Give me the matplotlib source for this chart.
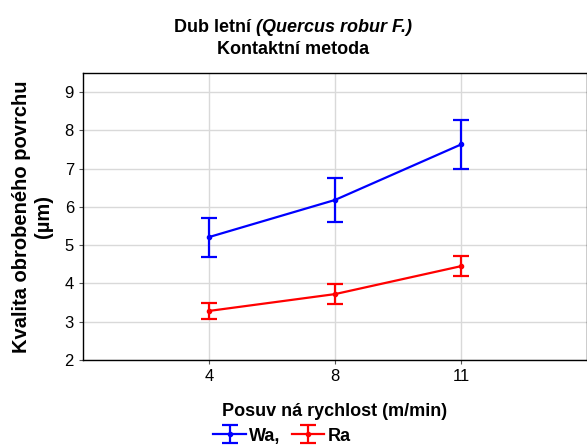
import numpy as np
import matplotlib.pyplot as plt

plt.rcParams['font.family'] = ['Liberation Sans', 'DejaVu Sans']

# feed rate categories and surface quality values (mean +/- error)
feed = ['4', '8', '11']
wa_mean = [5.21, 6.18, 7.63]
wa_err = [0.51, 0.57, 0.63]
ra_mean = [3.28, 3.72, 4.45]
ra_err = [0.21, 0.27, 0.26]

x = np.arange(1, len(feed) + 1)

fig = plt.figure(figsize=(5.87, 4.46), dpi=100)
ax = fig.add_axes([0.1414, 0.193, 0.8586, 0.6435])

ax.errorbar(x, wa_mean, yerr=wa_err, color='#0000ff', lw=1.6, marker='o', ms=3,
            capsize=6, capthick=1.6, elinewidth=1.6, label='Wa,')
ax.errorbar(x, ra_mean, yerr=ra_err, color='#ff0000', lw=1.6, marker='o', ms=3,
            capsize=6, capthick=1.6, elinewidth=1.6, label='Ra')

ax.set_xlim(0, 4)
ax.set_ylim(2, 9.5)
ax.set_xticks(x)
ax.set_xticklabels(feed)
ax.set_yticks(np.arange(2, 10))
ax.tick_params(labelsize=12, length=3, color='#555555')
ax.grid(True, color='#d9d9d9', lw=1)
ax.set_axisbelow(True)
for s in ax.spines.values():
    s.set_linewidth(1)

# title: upright part + italic latin name, centred together
t1 = fig.text(0, 0.938, 'Dub letní ', ha='left', va='center',
              fontsize=13, fontweight='bold')
t2 = fig.text(0, 0.938, '(Quercus robur F.)', ha='left', va='center',
              fontsize=13, fontweight='bold', style='italic')
r = fig.canvas.get_renderer()
w1 = t1.get_window_extent(r).width
w2 = t2.get_window_extent(r).width
W = fig.bbox.width
x0 = (W - w1 - w2) / 2
t1.set_x(x0 / W)
t2.set_x((x0 + w1) / W)
fig.text(0.5, 0.889, 'Kontaktní metoda', ha='center', va='center',
         fontsize=13, fontweight='bold')

ax.set_ylabel('Kvalita obrobeného povrchu\n(µm)', fontsize=14.5, fontweight='bold',
              labelpad=8, linespacing=1.25)
ax.set_xlabel('Posuv ná rychlost (m/min)', fontsize=13, fontweight='bold', labelpad=14)

ax.legend(loc='upper center', bbox_to_anchor=(0.395, -0.205), ncol=2, frameon=False,
          prop={'weight': 'bold', 'size': 13}, handlelength=1.8,
          handletextpad=0.2, columnspacing=0.6, borderpad=0)

fig.savefig('out.png', dpi=100)
